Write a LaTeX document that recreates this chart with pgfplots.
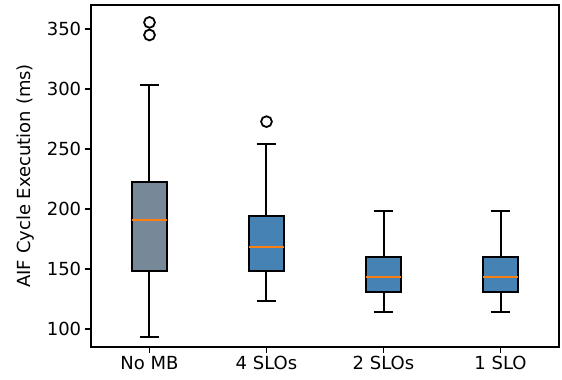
\documentclass[border=0pt]{standalone}
\usepackage{pgfplots}
\pgfplotsset{compat=1.18}
\usepgfplotslibrary{statistics}
\usepackage{fontspec}
\setmainfont{DejaVu Sans}

\definecolor{slategrey}{HTML}{778899}
\definecolor{steelblue}{HTML}{4682B4}
\definecolor{medianorange}{HTML}{FF7F0E}

\begin{document}
\begin{tikzpicture}
\begin{axis}[
  scale only axis,
  width=468bp, height=341.7bp,
  xmin=0.5, xmax=4.5,
  ymin=85.25, ymax=370,
  xtick={1,2,3,4},
  xticklabels={No MB,4 SLOs,2 SLOs,1 SLO},
  ytick={100,150,200,250,300,350},
  tick align=outside, tick pos=left,
  major tick length=6.3bp,
  every tick/.style={black, line width=1.6bp},
  axis line style={black, line width=1.8bp},
  /pgf/number format/assume math mode=true,
  tick label style={font=\fontsize{18bp}{21bp}\selectfont},
  ylabel={AIF Cycle Execution (ms)},
  ylabel style={font=\fontsize{18bp}{21bp}\selectfont,
                at={(axis description cs:-0.139,0.5)}, anchor=center},
  unbounded coords=jump,
  boxplot/draw direction=y,
  boxplot/box extend=0.304,
  % whiskers and medians are drawn as separate line plots below
  boxplot/draw/whisker/.code 2 args={},
  boxplot/draw/median/.code={},
]
% whiskers with caps: quartile -> whisker end, cap half width 0.084
\addplot[black, line width=2bp, line cap=butt, forget plot] coordinates {
  (1,148.6) (1,93.6)   (nan,nan) (0.916,93.6)  (1.084,93.6)  (nan,nan)
  (1,222.8) (1,303.3)  (nan,nan) (0.916,303.3) (1.084,303.3) (nan,nan)
  (2,148.6) (2,123.3)  (nan,nan) (1.916,123.3) (2.084,123.3) (nan,nan)
  (2,194.2) (2,254.2)  (nan,nan) (1.916,254.2) (2.084,254.2) (nan,nan)
  (3,131.1) (3,114.4)  (nan,nan) (2.916,114.4) (3.084,114.4) (nan,nan)
  (3,159.7) (3,198.3)  (nan,nan) (2.916,198.3) (3.084,198.3) (nan,nan)
  (4,131.1) (4,114.4)  (nan,nan) (3.916,114.4) (4.084,114.4) (nan,nan)
  (4,159.7) (4,198.3)  (nan,nan) (3.916,198.3) (4.084,198.3)
};
% No MB
\addplot[fill=slategrey, draw=black, line width=2bp,
  boxplot prepared={draw position=1,
    lower whisker=93.6, lower quartile=148.6, median=190.8,
    upper quartile=222.8, upper whisker=303.3}]
  coordinates {};
% 4 SLOs
\addplot[fill=steelblue, draw=black, line width=2bp,
  boxplot prepared={draw position=2,
    lower whisker=123.3, lower quartile=148.6, median=168.3,
    upper quartile=194.2, upper whisker=254.2}]
  coordinates {};
% 2 SLOs
\addplot[fill=steelblue, draw=black, line width=2bp,
  boxplot prepared={draw position=3,
    lower whisker=114.4, lower quartile=131.1, median=143.6,
    upper quartile=159.7, upper whisker=198.3}]
  coordinates {};
% 1 SLO
\addplot[fill=steelblue, draw=black, line width=2bp,
  boxplot prepared={draw position=4,
    lower whisker=114.4, lower quartile=131.1, median=143.6,
    upper quartile=159.7, upper whisker=198.3}]
  coordinates {};
% medians across each box (box half width 0.152)
\addplot[medianorange, line width=2bp, line cap=butt, forget plot] coordinates {
  (0.848,190.8) (1.152,190.8) (nan,nan)
  (1.848,168.3) (2.152,168.3) (nan,nan)
  (2.848,143.6) (3.152,143.6) (nan,nan)
  (3.848,143.6) (4.152,143.6)
};
% outliers
\addplot[only marks, mark=o, mark size=5.4bp,
  mark options={draw=black, line width=1.8bp}]
  coordinates {(1,355.5) (1,345) (2,272.8)};
\end{axis}
% page frame around the axis box
\pgfresetboundingbox
\useasboundingbox (-91bp,-33.3bp) rectangle (471bp,346.7bp);
\end{tikzpicture}
\end{document}
